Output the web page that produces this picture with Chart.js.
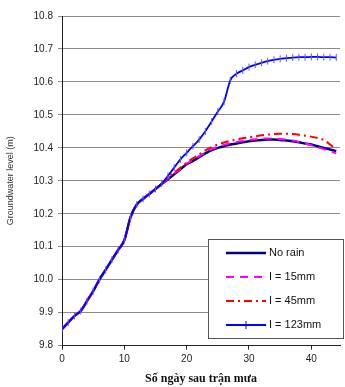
<!DOCTYPE html>
<html>
<head>
<meta charset="utf-8">
<script src="https://cdn.jsdelivr.net/npm/chart.js@4.4.1/dist/chart.umd.min.js"></script>
<style>
  html, body { margin: 0; padding: 0; background: #fff; }
  #wrap { position: relative; width: 345px; height: 387px; }
</style>
</head>
<body>
<div id="wrap"><canvas id="gwChart" width="345" height="387"></canvas></div>
<script>
// days after the rain event
const days = [0,1,2,3,4,5,6,7,8,9,10,11,12,13,14,15,16,17,18,19,20,21,22,23,24,25,26,27,28,29,30,31,32,33,34,35,36,37,38,39,40,41,42,43,44];

// groundwater level (m) for each scenario
const noRain = [9.85,9.87,9.89,9.905,9.935,9.965,10.0,10.03,10.06,10.09,10.12,10.19,10.228,10.245,10.26,10.275,10.29,10.305,
  10.32,10.335,10.35,10.36,10.372,10.383,10.393,10.40,10.405,10.41,10.413,10.417,10.42,10.422,10.424,10.425,10.425,10.424,
  10.422,10.42,10.417,10.413,10.41,10.405,10.40,10.395,10.39];
const rain15 = [9.85,9.87,9.89,9.905,9.935,9.965,10.0,10.03,10.06,10.09,10.12,10.19,10.228,10.245,10.26,10.275,10.29,10.307,
  10.322,10.337,10.352,10.363,10.375,10.386,10.396,10.403,10.409,10.414,10.418,10.421,10.424,10.426,10.428,10.428,10.428,10.427,
  10.425,10.422,10.418,10.413,10.408,10.402,10.396,10.39,10.383];
const rain45 = [9.85,9.87,9.89,9.905,9.935,9.965,10.0,10.03,10.06,10.09,10.12,10.19,10.228,10.245,10.26,10.275,10.29,10.31,
  10.325,10.34,10.355,10.368,10.38,10.392,10.402,10.41,10.416,10.421,10.425,10.429,10.432,10.435,10.438,10.44,10.442,10.443,
  10.443,10.442,10.44,10.437,10.434,10.43,10.424,10.41,10.395];
const rain123 = [9.85,9.87,9.89,9.905,9.935,9.965,10.0,10.03,10.06,10.09,10.12,10.19,10.228,10.245,10.26,10.275,10.292,10.315,
  10.34,10.365,10.385,10.405,10.425,10.45,10.48,10.51,10.54,10.605,10.625,10.635,10.645,10.652,10.658,10.663,10.667,10.67,
  10.672,10.674,10.675,10.675,10.676,10.676,10.675,10.675,10.674];

const seriesNames = ['No rain', 'I = 15mm', 'I = 45mm', 'I = 123mm'];
const yTicks = [9.8,9.9,10.0,10.1,10.2,10.3,10.4,10.5,10.6,10.7,10.8];
const xTicks = [0,10,20,30,40];

function pts(vals) {
  return days.map((d, i) => ({ x: d, y: vals[i] }));
}

// legend box drawn inside the plot, like the original
const boxLegend = {
  id: 'boxLegend',
  afterDraw(chart) {
    const ctx = chart.ctx;
    const x0 = 208, y0 = 239, w = 135, h = 99;
    ctx.save();
    ctx.fillStyle = '#fff';
    ctx.fillRect(x0, y0, w, h);
    ctx.strokeStyle = '#555';
    ctx.lineWidth = 1;
    ctx.strokeRect(x0 + 0.5, y0 + 0.5, w, h);
    chart.data.datasets.forEach((ds, i) => {
      const yy = y0 + 14 + i * 24;
      ctx.strokeStyle = ds.borderColor;
      ctx.lineWidth = ds.borderWidth;
      ctx.setLineDash(ds.borderDash || []);
      ctx.beginPath();
      ctx.moveTo(x0 + 18, yy);
      ctx.lineTo(x0 + 58, yy);
      ctx.stroke();
      ctx.setLineDash([]);
      if (ds.pointRadius > 0) {
        ctx.lineWidth = 1;
        ctx.beginPath();
        ctx.moveTo(x0 + 38, yy - 4);
        ctx.lineTo(x0 + 38, yy + 4);
        ctx.stroke();
      }
      ctx.fillStyle = '#111';
      ctx.font = '11px "Liberation Sans", Arial, sans-serif';
      ctx.textBaseline = 'middle';
      ctx.fillText(seriesNames[i], x0 + 61, yy);
    });
    ctx.restore();
  }
};

const gwChart = new Chart(document.getElementById('gwChart').getContext('2d'), {
  type: 'line',
  data: {
    datasets: [
      { label: seriesNames[0], data: pts(noRain), borderColor: '#000080', borderWidth: 2.5, pointRadius: 0, order: 3 },
      { label: seriesNames[1], data: pts(rain15), borderColor: '#ff00ff', borderWidth: 2, borderDash: [8, 6], pointRadius: 0, order: 2 },
      { label: seriesNames[2], data: pts(rain45), borderColor: '#ff0000', borderWidth: 2, borderDash: [8, 4, 2, 4], pointRadius: 0, order: 1 },
      { label: seriesNames[3], data: pts(rain123), borderColor: '#0000ff', borderWidth: 1.8, pointRadius: 3.5,
        pointStyle: 'line', rotation: 90, pointBorderColor: '#5a5aff', pointBorderWidth: 1, order: 0 }
    ]
  },
  options: {
    responsive: false,
    animation: false,
    elements: { line: { cubicInterpolationMode: 'monotone' } },
    layout: { padding: { top: 16, right: 0, bottom: 1, left: 0 } },
    plugins: {
      legend: { display: false },
      tooltip: { enabled: false }
    },
    scales: {
      x: {
        type: 'linear',
        min: 0,
        max: 44.6,
        afterBuildTicks(scale) {
          scale.ticks = xTicks.map(v => ({ value: v }));
        },
        grid: { drawOnChartArea: false, drawTicks: true, tickLength: 4, color: '#222' },
        border: { color: '#222', width: 1 },
        ticks: { color: '#222', font: { family: '"Liberation Sans", Arial, sans-serif', size: 10 }, padding: 4, maxRotation: 0 },
        title: {
          display: true,
          text: 'Số ngày sau trận mưa',
          color: '#111',
          font: { family: '"Liberation Serif", "Times New Roman", serif', size: 12, weight: 'bold' },
          padding: { top: 2, bottom: 0 }
        }
      },
      y: {
        min: 9.8,
        max: 10.8,
        afterBuildTicks(scale) {
          scale.ticks = yTicks.map(v => ({ value: v }));
        },
        afterFit(scale) { scale.width = 62; },
        grid: { color: '#8c8c8c', lineWidth: 1, drawTicks: true, tickLength: 4 },
        border: { color: '#222', width: 1 },
        ticks: {
          color: '#222',
          font: { family: '"Liberation Sans", Arial, sans-serif', size: 10 },
          padding: 5,
          callback: v => v.toFixed(1)
        },
        title: {
          display: true,
          text: 'Groundwater level (m)',
          color: '#333',
          font: { family: '"Liberation Sans", Arial, sans-serif', size: 9 },
          padding: { top: 5, bottom: 4 }
        }
      }
    }
  },
  plugins: [boxLegend]
});
</script>
</body>
</html>
